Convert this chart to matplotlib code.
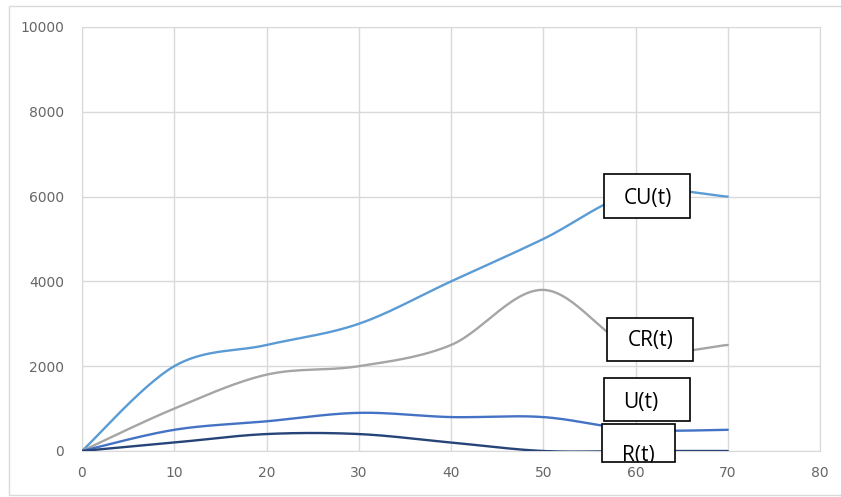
import numpy as np
import matplotlib.pyplot as plt
from matplotlib.patches import Rectangle

# time steps and the four series
t = [0, 10, 20, 30, 40, 50, 60, 70]
cu = [0, 2000, 2500, 3000, 4000, 5000, 6100, 6000]
cr = [0, 1000, 1800, 2000, 2500, 3800, 2400, 2500]
u = [0, 500, 700, 900, 800, 800, 500, 500]
r = [0, 200, 400, 400, 200, 0, 0, 0]

xticks = list(range(0, 81, 10))
yticks = list(range(0, 10001, 2000))

series = [('CU(t)', cu, '#5B9BD5'), ('CR(t)', cr, '#A5A5A5'),
          ('U(t)', u, '#4472C4'), ('R(t)', r, '#264478')]


def smooth(x, y, n=30):
    # excel-like smoothed line (catmull-rom style bezier)
    x = np.asarray(x, float)
    y = np.asarray(y, float)
    px = np.concatenate([[x[0]], x, [x[-1]]])
    py = np.concatenate([[y[0]], y, [y[-1]]])
    xs, ys = [], []
    s = np.linspace(0, 1, n)
    for i in range(1, len(px) - 2):
        p0 = np.array([px[i], py[i]])
        p3 = np.array([px[i + 1], py[i + 1]])
        p1 = p0 + (np.array([px[i + 1], py[i + 1]]) - np.array([px[i - 1], py[i - 1]])) / 6
        p2 = p3 - (np.array([px[i + 2], py[i + 2]]) - np.array([px[i], py[i]])) / 6
        b = ((1 - s) ** 3)[:, None] * p0 + (3 * (1 - s) ** 2 * s)[:, None] * p1 \
            + (3 * (1 - s) * s ** 2)[:, None] * p2 + (s ** 3)[:, None] * p3
        xs.extend(b[:, 0])
        ys.extend(b[:, 1])
    return xs, ys


fig = plt.figure(figsize=(8.41, 4.97), dpi=100)
ax = fig.add_axes([82 / 841, 1 - 451 / 497, 738 / 841, 424 / 497])

for name, vals, col in series:
    sx, sy = smooth(t, vals)
    ax.plot(sx, sy, color=col, lw=1.7, solid_capstyle='round', zorder=3)

ax.set_xlim(0, 80)
ax.set_ylim(0, 10000)
ax.set_xticks(xticks)
ax.set_yticks(yticks)

# gridlines drawn by hand so the tick labels can sit on top of the boxes
ax.vlines(xticks, 0, 10000, color='#D9D9D9', lw=1, zorder=1)
ax.hlines(yticks, 0, 80, color='#D9D9D9', lw=1, zorder=1)
ax.xaxis.set_zorder(7)

ax.tick_params(length=0, labelsize=10, labelcolor='#666666')
ax.tick_params(axis='y', pad=13)
ax.tick_params(axis='x', pad=11)
for sp in ax.spines.values():
    sp.set_color('#D9D9D9')
    sp.set_zorder(1)

# label boxes (the R(t) text is cut off by its box, as in the original)
boxes = [('CU(t)', 56.6, 5495, 9.3, 1040, 61.3, 5960),
         ('CR(t)', 56.9, 2123, 9.3, 1014, 61.6, 2600),
         ('U(t)', 56.6, 708, 9.3, 1014, 60.6, 1150),
         ('R(t)', 56.4, -270, 7.9, 910, 60.3, -100)]
for name, bx, by, bw, bh, tx, ty in boxes:
    rect = Rectangle((bx, by), bw, bh, facecolor='white', edgecolor='black',
                     lw=1.2, clip_on=False, zorder=5)
    ax.add_patch(rect)
    txt = ax.text(tx, ty, name, ha='center', va='center', fontsize=15,
                  family='Open Sans', zorder=6, clip_on=True)
    txt.set_clip_path(rect)

# outer chart frame
fig.patches.append(Rectangle((9 / 841, 2 / 497), 840 / 841, 489 / 497,
                             transform=fig.transFigure, fill=False,
                             edgecolor='#D9D9D9', lw=1))

fig.savefig('out.png', dpi=100)
